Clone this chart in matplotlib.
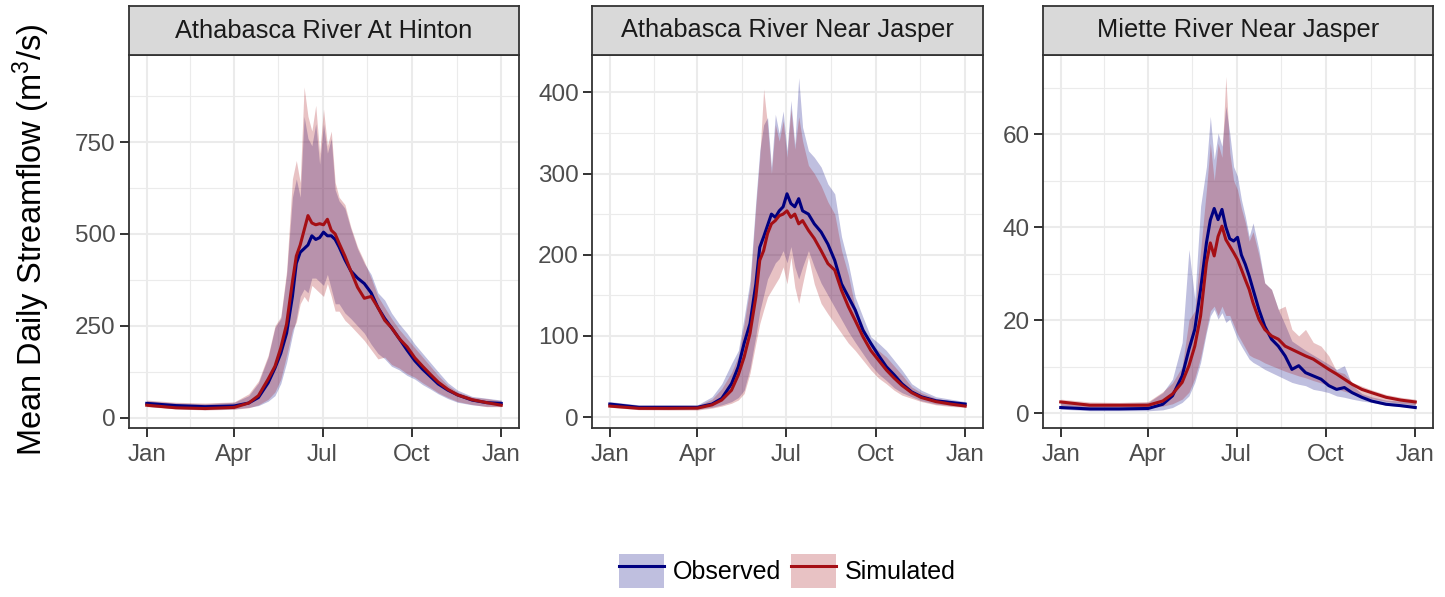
import matplotlib
matplotlib.use("Agg")
import matplotlib.pyplot as plt
from matplotlib.patches import Patch
from matplotlib.lines import Line2D

plt.rcParams['font.family'] = ['Liberation Sans', 'DejaVu Sans']
plt.rcParams['mathtext.fontset'] = 'custom'
plt.rcParams['mathtext.rm'] = 'Liberation Sans'
plt.rcParams['mathtext.it'] = 'Liberation Sans'

# day of year for every reading
days = [0, 30, 60, 90, 105, 115, 125, 132, 138, 144, 150, 154, 158, 162, 166, 170,
        174, 178, 182, 186, 190, 194, 198, 204, 210, 217, 224, 231, 238, 245, 252,
        260, 268, 276, 284, 292, 300, 310, 320, 335, 350, 365]

stations = ["Athabasca River At Hinton", "Athabasca River Near Jasper", "Miette River Near Jasper"]

# Athabasca River At Hinton
hinton_obs = [39, 33, 30, 32, 40, 55, 95, 135, 175, 230, 330, 420, 450, 460, 470, 495, 485, 490, 505, 495,
              495, 485, 465, 430, 400, 380, 365, 340, 300, 270, 245, 215, 184, 155, 132, 112, 92, 75, 62, 48, 41, 39]
hinton_sim = [34, 27, 25, 28, 40, 60, 105, 140, 190, 255, 370, 440, 470, 510, 550, 530, 525, 528, 525, 540,
              510, 500, 475, 440, 400, 355, 325, 330, 300, 265, 245, 215, 193, 163, 140, 118, 97, 77, 62, 49, 41, 34]
hinton_obs_hi = [46, 40, 38, 42, 60, 95, 165, 245, 270, 390, 600, 650, 600, 820, 760, 740, 800, 690, 800, 720,
                 760, 620, 590, 570, 515, 460, 420, 390, 340, 320, 285, 255, 230, 200, 175, 150, 125, 95, 75, 58, 53, 48]
hinton_sim_hi = [48, 42, 40, 43, 65, 100, 170, 250, 275, 400, 650, 700, 640, 900, 820, 780, 850, 720, 840, 740,
                 780, 640, 600, 580, 520, 465, 425, 380, 330, 300, 270, 240, 215, 190, 165, 140, 115, 88, 70, 56, 52, 46]
hinton_obs_lo = [31, 25, 22, 24, 28, 33, 45, 60, 93, 150, 225, 270, 330, 350, 340, 380, 380, 370, 360, 390,
                 350, 310, 310, 285, 270, 250, 230, 200, 175, 160, 140, 130, 115, 105, 90, 78, 65, 52, 42, 35, 31, 31]
hinton_sim_lo = [30, 24, 21, 23, 27, 35, 50, 70, 105, 170, 240, 260, 310, 330, 315, 360, 350, 340, 330, 365,
                 330, 290, 290, 265, 250, 230, 210, 185, 160, 165, 145, 135, 120, 110, 95, 82, 68, 55, 44, 36, 30, 30]

# Athabasca River Near Jasper
jasper_obs = [16, 12, 12, 12, 16, 23, 41, 62, 91, 115, 164, 209, 222, 236, 250, 246, 254, 259, 275, 263,
              259, 269, 254, 250, 238, 228, 213, 193, 164, 148, 132, 107, 91, 76, 62, 52, 41, 31, 25, 20, 18, 16]
jasper_sim = [13.5, 10.7, 10.7, 11, 15, 21, 33, 52, 74, 103, 148, 193, 205, 226, 238, 242, 248, 250, 254, 246,
              250, 238, 242, 230, 220, 205, 189, 181, 156, 136, 119, 99, 82, 70, 58, 48, 39, 30, 24, 19, 16, 13.5]
jasper_obs_hi = [19, 15, 15, 15, 25, 41, 66, 82, 123, 168, 267, 328, 360, 369, 308, 373, 349, 377, 328, 390,
                 336, 418, 357, 328, 320, 308, 287, 275, 222, 189, 148, 123, 99, 91, 82, 70, 58, 41, 33, 25, 22, 19]
jasper_sim_hi = [17, 14, 14, 14, 22, 35, 55, 75, 115, 160, 260, 320, 404, 360, 300, 360, 340, 365, 320, 380,
                 330, 370, 340, 310, 300, 285, 265, 250, 205, 175, 135, 112, 90, 82, 74, 63, 52, 37, 30, 23, 20, 17]
jasper_obs_lo = [13, 10, 9.5, 9.5, 12, 15, 19, 24, 33, 60, 100, 130, 150, 170, 180, 190, 195, 205, 190, 210,
                 185, 170, 185, 205, 185, 165, 150, 135, 120, 105, 92, 78, 64, 53, 45, 36, 30, 25, 20, 16, 14, 13]
jasper_sim_lo = [12, 9, 8.6, 8.6, 11, 13.5, 17, 21, 29, 54, 91, 115, 132, 148, 156, 164, 172, 185, 164, 197,
                 160, 140, 164, 197, 164, 140, 127, 115, 103, 91, 82, 70, 58, 48, 41, 33, 27, 23, 19, 15, 13, 12]

# Miette River Near Jasper
miette_obs = [1.2, 0.9, 0.9, 1.0, 1.9, 3.7, 8.0, 13.7, 18.0, 26.6, 36.6, 41.5, 44.0, 41.6, 43.8, 40.0, 37.5, 37.0, 37.8, 34.0,
              32.0, 29.5, 26.6, 22.3, 18.7, 15.9, 14.4, 12.3, 9.4, 10.2, 8.7, 8.0, 7.3, 5.9, 5.1, 5.5, 4.4, 3.4, 2.6, 1.9, 1.6, 1.2]
miette_sim = [2.4, 1.7, 1.7, 1.7, 2.6, 4.1, 6.6, 10.2, 14.4, 20.9, 32.3, 36.6, 33.8, 38.0, 40.2, 37.3, 35.9, 34.5, 33.0, 30.9,
              28.7, 26.6, 23.7, 20.2, 18.0, 16.6, 15.9, 14.4, 13.7, 13.0, 12.3, 11.6, 10.5, 9.4, 8.4, 7.3, 6.2, 5.1, 4.4, 3.4, 2.8, 2.4]
miette_obs_hi = [2.6, 2.1, 2.1, 2.3, 4.4, 7.3, 15.2, 35.2, 24.5, 44.5, 53, 63.8, 54.5, 60.2, 57.4, 66, 60.2, 53, 50.9, 45.9,
                 42.3, 38.0, 40.9, 35.2, 28.0, 26.6, 22.3, 19, 15.5, 14.5, 13.5, 12.5, 11.5, 10.5, 9.4, 10.2, 6.0, 4.2, 3.5, 2.8, 2.6, 2.4]
miette_sim_hi = [3.0, 2.4, 2.3, 2.5, 4.6, 6.5, 10, 20, 22, 35, 48, 58, 50, 58, 55, 72.4, 56, 50, 48, 44,
                 41, 37, 39, 34, 28, 26.6, 22.3, 23.0, 18.0, 16.6, 18.0, 15.2, 14.4, 12.3, 9.0, 8.5, 6.6, 5.8, 5.0, 4.0, 3.4, 3.0]
miette_obs_lo = [0.86, 0.5, 0.5, 0.5, 0.7, 1.2, 2.3, 3.7, 6.6, 10.9, 17.3, 20.9, 22.3, 20.2, 21.6, 19.5, 20.2, 18.0, 15.9, 14.4,
                 13.0, 11.6, 10.9, 10.2, 9.4, 8.7, 8.0, 7.3, 6.6, 6.2, 5.9, 5.1, 4.8, 4.4, 3.7, 3.4, 3.0, 2.6, 2.3, 1.7, 1.4, 1.2]
miette_sim_lo = [1.6, 1.1, 1.1, 1.1, 1.5, 2.0, 3.0, 4.5, 7.5, 12, 18, 22, 23, 21, 23, 21, 21, 19, 17, 15.5,
                 14, 12.5, 12, 11.5, 10.8, 10.2, 9.6, 9.0, 8.5, 8.0, 7.6, 7.0, 6.5, 5.9, 5.2, 4.7, 4.2, 3.6, 3.1, 2.5, 2.1, 1.8]

panels = [
    (hinton_obs, hinton_sim, hinton_obs_lo, hinton_obs_hi, hinton_sim_lo, hinton_sim_hi),
    (jasper_obs, jasper_sim, jasper_obs_lo, jasper_obs_hi, jasper_sim_lo, jasper_sim_hi),
    (miette_obs, miette_sim, miette_obs_lo, miette_obs_hi, miette_sim_lo, miette_sim_hi),
]

month_ticks = [0, 90, 181, 273, 365]
month_labels = ["Jan", "Apr", "Jul", "Oct", "Jan"]
month_minor = [45, 135.5, 227, 319]
y_major = [[0, 250, 500, 750], [0, 100, 200, 300, 400], [0, 20, 40, 60]]
y_minor = [[125, 375, 625, 875], [50, 150, 250, 350], [10, 30, 50, 70]]
y_lims = [(-28, 987), (-13.5, 446), (-3.2, 77)]

obs_col = "#000080"
sim_col = "#a50f15"
edge = "#333333"
grid = "#EBEBEB"

W, H = 1445, 597
fig = plt.figure(figsize=(W / 100, H / 100), dpi=100)

lefts = [129, 592, 1043]
widths = [390, 391, 390]
top, bottom = 55, 428
strip_top = 6

for i, (obs, sim, olo, ohi, slo, shi) in enumerate(panels):
    ax = fig.add_axes([lefts[i] / W, 1 - bottom / H, widths[i] / W, (bottom - top) / H])
    ax.fill_between(days, olo, ohi, color=obs_col, alpha=0.25, lw=0)
    ax.fill_between(days, slo, shi, color=sim_col, alpha=0.25, lw=0)
    ax.plot(days, obs, color=obs_col, lw=2.2, solid_joinstyle='round')
    ax.plot(days, sim, color=sim_col, lw=2.2, solid_joinstyle='round')

    ax.set_xlim(-18.25, 383.25)
    ax.set_ylim(*y_lims[i])
    ax.set_xticks(month_ticks)
    ax.set_xticklabels(month_labels)
    ax.set_xticks(month_minor, minor=True)
    ax.set_yticks(y_major[i])
    ax.set_yticks(y_minor[i], minor=True)
    ax.grid(which='major', color=grid, lw=1.5)
    ax.grid(which='minor', color=grid, lw=0.8)
    ax.set_axisbelow(True)
    ax.tick_params(which='major', length=6.5, width=1.4, color=edge,
                   labelcolor='#4D4D4D', labelsize=17.5, pad=3)
    ax.tick_params(axis='x', which='major', pad=5)
    ax.tick_params(which='minor', length=0)
    for s in ax.spines.values():
        s.set_color(edge)
        s.set_linewidth(1.3)

    sax = fig.add_axes([lefts[i] / W, 1 - top / H, widths[i] / W, (top - strip_top) / H])
    sax.set_facecolor('#D9D9D9')
    sax.set_xticks([])
    sax.set_yticks([])
    for s in sax.spines.values():
        s.set_color(edge)
        s.set_linewidth(1.3)
    sax.text(0.5, 0.5, stations[i], ha='center', va='center', fontsize=18.3,
             color='#1A1A1A', transform=sax.transAxes)

fig.text(31 / W, 1 - 240 / H, 'Mean Daily Streamflow (m$^3$/s)', rotation=90,
         ha='center', va='center', fontsize=23.5, color='black')

handles = [
    (Patch(facecolor=obs_col, alpha=0.25, lw=0), Line2D([], [], color=obs_col, lw=2.2)),
    (Patch(facecolor=sim_col, alpha=0.25, lw=0), Line2D([], [], color=sim_col, lw=2.2)),
]
fig.legend(handles, ["Observed", "Simulated"], loc='center', bbox_to_anchor=(787 / W, 1 - 571 / H),
           ncol=2, frameon=False, fontsize=18, handlelength=1.8, handleheight=1.75,
           handletextpad=0.35, columnspacing=0.4, borderpad=0)

fig.savefig("out.png", dpi=100)
